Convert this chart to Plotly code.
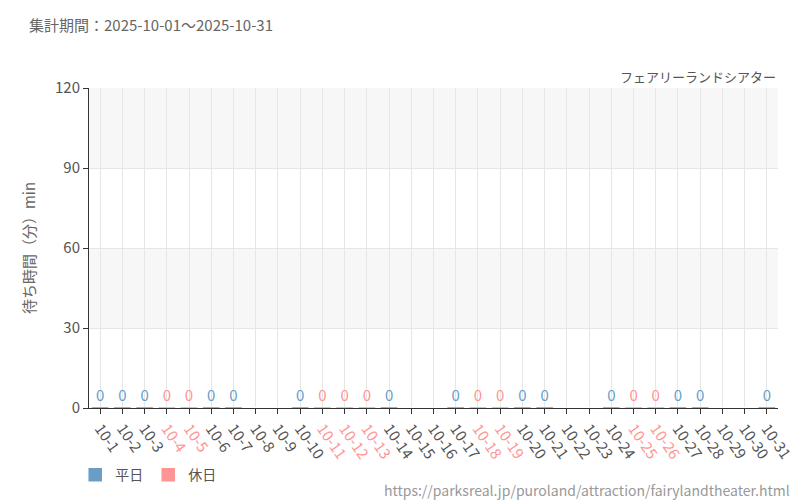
import plotly.graph_objects as go

days = [f"10-{d}" for d in range(1, 32)]
weekday_days = ["10-1","10-2","10-3","10-6","10-7","10-10","10-14","10-17","10-20","10-21","10-24","10-27","10-28","10-31"]
weekday_vals = [0]*len(weekday_days)
holiday_days = ["10-4","10-5","10-11","10-12","10-13","10-18","10-19","10-25","10-26"]
holiday_vals = [0]*len(holiday_days)
y_ticks = [0, 30, 60, 90, 120]

BLUE = "#699dc6"; PINK = "#ff9494"
fig = go.Figure()
fig.add_trace(go.Bar(x=weekday_days, y=weekday_vals, name="平日", marker=dict(color=BLUE, line=dict(color=BLUE, width=1.5)),
                     text=[str(v) for v in weekday_vals], textposition="outside", cliponaxis=False,
                     textfont=dict(color=BLUE, size=15), width=0.75))
fig.add_trace(go.Bar(x=holiday_days, y=holiday_vals, name="休日", marker=dict(color=PINK, line=dict(color=PINK, width=1.5)),
                     text=[str(v) for v in holiday_vals], textposition="outside", cliponaxis=False,
                     textfont=dict(color=PINK, size=15), width=0.75))

ticktext = [f"<span style='color:{PINK}'>{d}</span>" if d in holiday_days else d for d in days]
for y0, y1 in [(90, 120), (30, 60)]:
    fig.add_shape(type="rect", xref="paper", yref="y", x0=0, x1=1, y0=y0, y1=y1,
                  fillcolor="#f7f7f7", line_width=0, layer="below")

fig.update_layout(
    width=800, height=500, barmode="overlay", plot_bgcolor="white", paper_bgcolor="white",
    margin=dict(l=81, r=30, t=80, b=100, autoexpand=False),
    font=dict(family="Noto Sans CJK JP", color="#555", size=14),
    xaxis=dict(type="category", categoryorder="array", categoryarray=days, tickmode="array", tickvals=days, ticktext=ticktext,
               tickangle=55, showgrid=True, gridcolor="#e6e6e6", ticks="outside", ticklen=5,
               tickcolor="#333", showline=True, linecolor="#333", tickfont=dict(size=15, color="#555"),
               range=[-0.5, 30.5], automargin=False),
    yaxis=dict(range=[0, 120], tickvals=y_ticks, showgrid=True, gridcolor="#e6e6e6", showline=True,
               linecolor="#333", ticks="outside", ticklen=5, tickcolor="#333", automargin=False,
               title=dict(text="待ち時間（分）min", font=dict(size=15, color="#666")), tickfont=dict(size=15)),
    legend=dict(orientation="h", x=-0.02, y=-0.16, xanchor="left", yanchor="top", font=dict(size=14)),
    annotations=[
        dict(text="集計期間：2025-10-01～2025-10-31", xref="paper", yref="paper", x=-0.09, y=1.2,
             xanchor="left", yanchor="middle", showarrow=False, font=dict(size=15, color="#666")),
        dict(text="フェアリーランドシアター", xref="paper", yref="paper", x=1.0, y=1.0,
             xanchor="right", yanchor="bottom", showarrow=False, font=dict(size=13, color="#555")),
        dict(text="https://parksreal.jp/puroland/attraction/fairylandtheater.html", xref="paper", yref="paper",
             x=1.02, y=-0.255, xanchor="right", yanchor="middle", showarrow=False, font=dict(size=14, color="#999")),
    ],
)
fig.write_html("out.html")
